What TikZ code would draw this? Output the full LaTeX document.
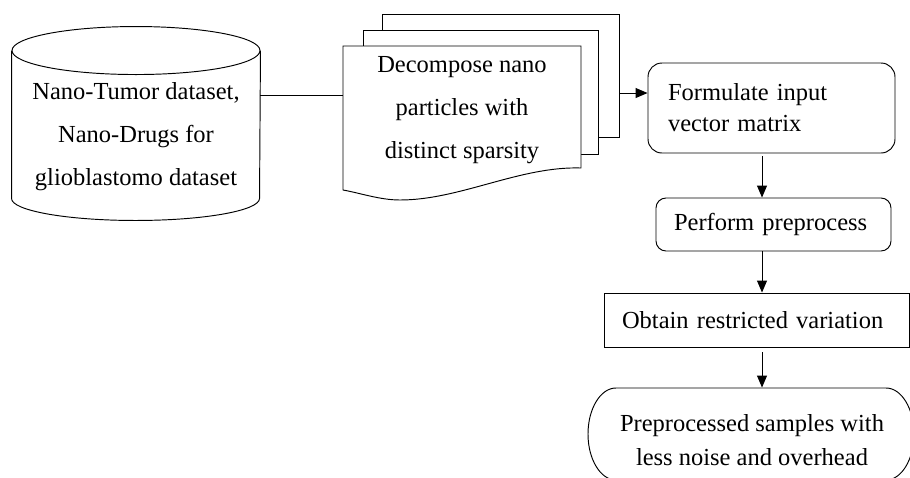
\documentclass[tikz,border=0pt]{standalone}
\usepackage{fontspec}
\setmainfont{Liberation Serif}
\usetikzlibrary{arrows.meta}

\begin{document}
\begin{tikzpicture}[x=1pt, y=-1pt, line width=0.95pt,
    txt/.style={font=\fontsize{24.5}{43}\selectfont, align=center, inner sep=0pt},
    procbox/.style={draw, font=\fontsize{24.5}{31}\selectfont, align=left, inner xsep=18pt, inner ysep=0pt},
    arr/.style={-{Triangle[length=12pt,width=10pt]}}]

    \path[use as bounding box] (0,0) rectangle (910,477);
    \clip (0,0) rectangle (910,477);

    % data store
    \node[minimum width=248pt, minimum height=147pt, inner sep=0pt] (cyl) at (136,124.5) {};
    \draw (cyl.north west) -- (cyl.south west) arc[start angle=180, end angle=0, x radius=124, y radius=22] -- (cyl.north east);
    \draw (cyl.north) ellipse[x radius=124, y radius=24];
    \node[txt] (cyltxt) at (136,137) {Nano-Tumor dataset,\\Nano-Drugs for\\glioblastomo dataset};

    % stacked documents
    \draw[fill=white] (382,14) rectangle (619,137);
    \draw[fill=white] (363,30) rectangle (598,154);
    \draw[fill=white] (343,46) -- (581,46) -- (581,168) .. controls (520,166) and (460,200) .. (400,200) .. controls (380,200) and (360,193) .. (343,190) -- cycle;
    \node[txt, minimum width=238pt] (front) at (462,110) {Decompose nano\\particles with\\distinct sparsity};
    \coordinate (stackout) at (619,93);

    % process steps
    \node[procbox, rounded corners=14pt, text width=207pt, inner xsep=20pt, minimum height=90pt] (form) at (771.5,108) {Formulate input\\vector matrix};
    \node[procbox, rounded corners=10pt, text width=199pt, minimum height=53pt] (perf) at (773.5,224.5) {Perform preprocess};
    \node[procbox, text width=269pt, minimum height=54pt] (obt) at (756.5,320) {Obtain restricted variation};

    % terminal
    \draw (616,388) -- (886,388) arc[start angle=-90, end angle=90, x radius=28, y radius=46] -- (616,480) arc[start angle=90, end angle=270, x radius=28, y radius=46] -- cycle;
    \node[txt, font=\fontsize{24.5}{34}\selectfont, minimum width=326pt, minimum height=104pt] (term) at (752,440) {Preprocessed samples with\\less noise and overhead};

    % connectors
    \coordinate (axis) at (762,0);
    \draw ([yshift=29.5pt]cyl.east) -- ([yshift=15pt]front.west);
    \draw[arr] (stackout) -- ([yshift=15pt]form.west);
    \draw[arr, shorten <=3pt] (form.south -| axis) -- (perf.north -| axis);
    \draw[arr] (perf.south -| axis) -- (obt.north -| axis);
    \draw[arr, shorten <=5pt] (obt.south -| axis) -- (term.north -| axis);
\end{tikzpicture}
\end{document}
